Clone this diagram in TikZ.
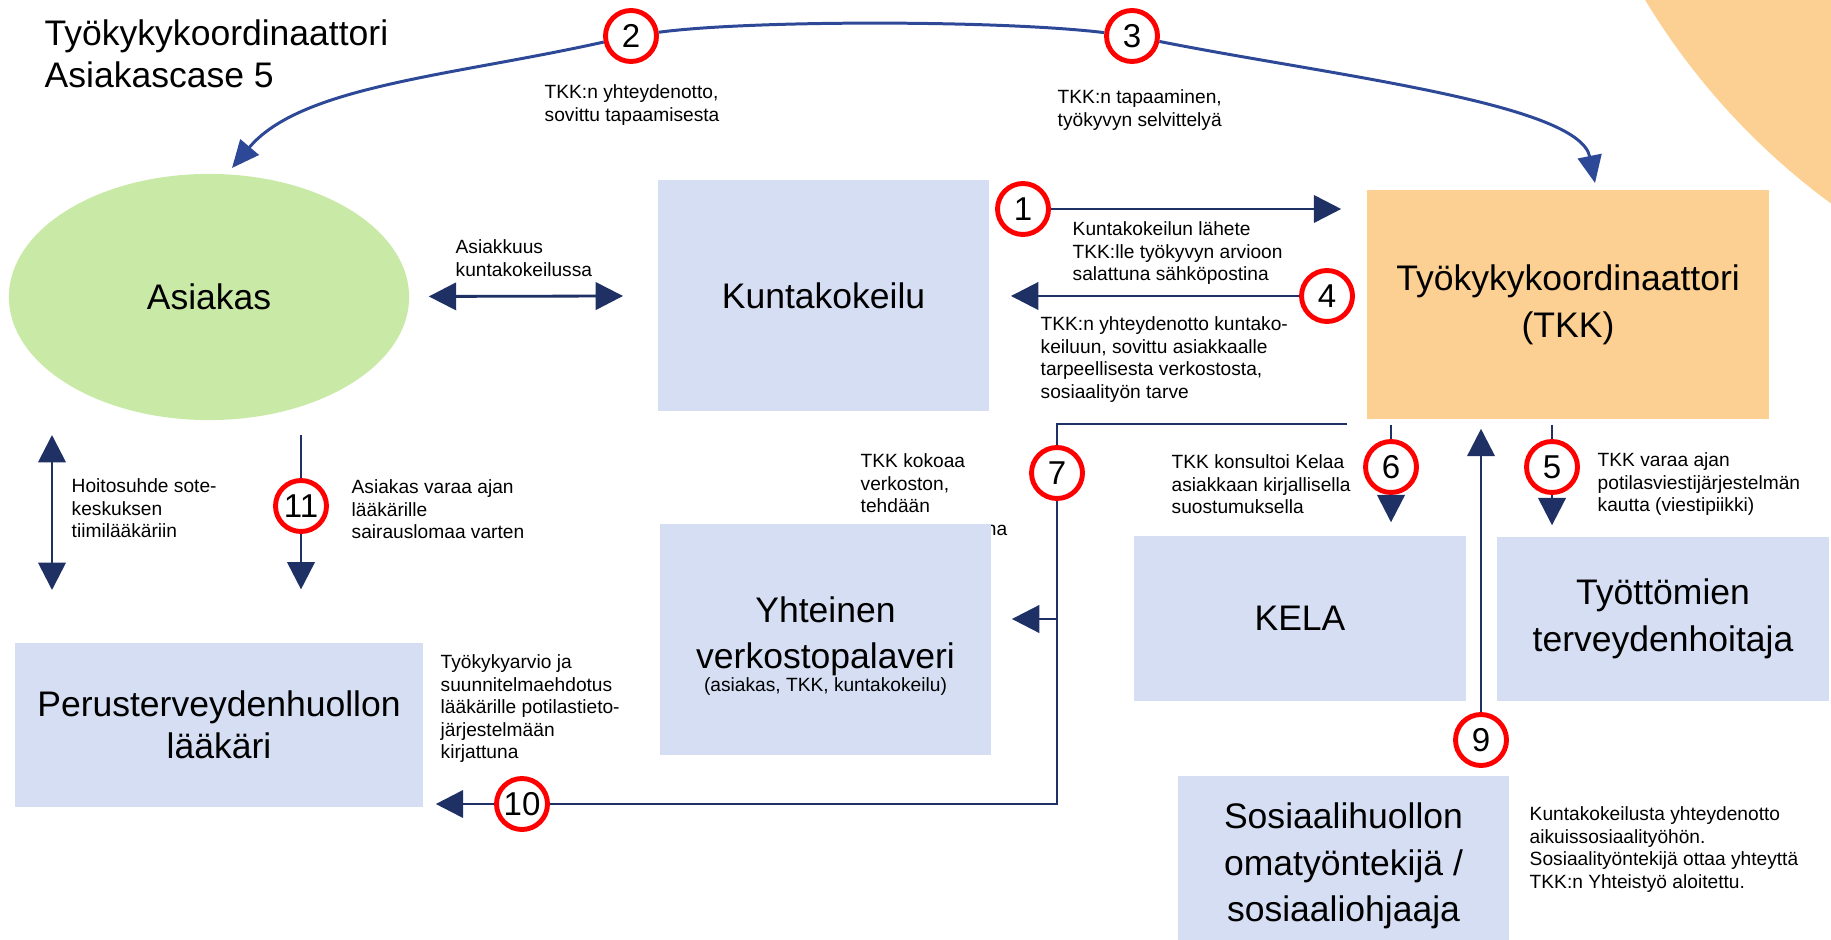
\documentclass[tikz,border=0pt]{standalone}
\usepackage{fontspec}
\setmainfont{Liberation Sans}
\usetikzlibrary{arrows.meta,shapes.geometric}
\definecolor{tkkorange}{RGB}{252,207,146}
\definecolor{boxblue}{RGB}{213,222,242}
\definecolor{asgreen}{RGB}{201,233,166}
\definecolor{flownavy}{RGB}{31,48,100}
\definecolor{curveblue}{RGB}{44,72,150}
\newcommand{\bigtext}{\fontsize{10.1pt}{12pt}\selectfont}
\newcommand{\boxtext}{\fontsize{10.1pt}{13.3pt}\selectfont}
\newcommand{\smalltext}{\fontsize{5.45pt}{6.4pt}\selectfont}
\newcommand{\numtext}{\fontsize{9.4pt}{10pt}\selectfont}

\begin{document}
\begin{tikzpicture}[x=0.01cm, y=-0.01cm,
	bluebox/.style={fill=boxblue, inner sep=0, align=center, font=\boxtext},
	lbl/.style={anchor=north west, align=left, inner sep=0, font=\smalltext},
	numring/.style={circle, draw=red, line width=1.4pt, fill=white, minimum size=14.5pt, inner sep=0, font=\numtext},
	flowline/.style={draw=flownavy, line width=0.8pt},
	flow/.style={flowline, -{Triangle[length=7.8pt,width=7.8pt]}},
	flowboth/.style={flowline, {Triangle[length=7.8pt,width=7.8pt]}-{Triangle[length=7.8pt,width=7.8pt]}},
	curveline/.style={draw=curveblue, line width=0.85pt},
	curve/.style={curveline, -{Triangle[length=7.8pt,width=6.8pt]}}]
					\useasboundingbox (0,0) rectangle (1831,940);
					\fill[tkkorange] (2245,-361) circle[radius=700];
					
					\node[anchor=north west, align=left, inner sep=0, font=\bigtext] (title) at (44,19) {Työkykykoordinaattori\\Asiakascase 5};
					
					\node[lbl] (l2) at (544,84) {TKK:n yhteydenotto,\\sovittu tapaamisesta};
					\node[lbl] (l3) at (1057,89) {TKK:n tapaaminen,\\työkyvyn selvittelyä};
					\node[lbl] (lasiakkuus) at (455,239) {Asiakkuus\\kuntakokeilussa};
					\node[lbl] (l1) at (1072,221) {Kuntakokeilun lähete\\TKK:lle työkyvyn arvioon\\salattuna sähköpostina};
					\node[lbl] (l4) at (1040,316) {TKK:n yhteydenotto kuntako-\\keiluun, sovittu asiakkaalle\\tarpeellisesta verkostosta,\\sosiaalityön tarve};
					\node[lbl] (l7) at (860,453) {TKK kokoaa\\verkoston,\\tehdään\\\hspace*{35.6pt}na};
					\node[lbl] (l6) at (1171,454) {TKK konsultoi Kelaa\\asiakkaan kirjallisella\\suostumuksella};
					\node[lbl] (l5) at (1597,452) {TKK varaa ajan\\potilasviestijärjestelmän\\kautta (viestipiikki)};
					\node[lbl] (l9) at (1529,806) {Kuntakokeilusta yhteydenotto\\aikuissosiaalityöhön.\\Sosiaalityöntekijä ottaa yhteyttä\\TKK:n Yhteistyö aloitettu.};
					\node[lbl] (lhoito) at (71,478) {Hoitosuhde sote-\\keskuksen\\tiimilääkäriin};
					\node[lbl] (l11) at (351,479) {Asiakas varaa ajan\\lääkärille\\sairauslomaa varten};
					\node[lbl] (l10) at (440,654) {Työkykyarvio ja\\suunnitelmaehdotus\\lääkärille potilastieto-\\järjestelmään\\kirjattuna};
					
					\node[ellipse, fill=asgreen, minimum width=113.8pt, minimum height=70pt, inner sep=0, font=\bigtext] (asiakas) at (209,297) {Asiakas};
					\node[bluebox, minimum width=94.2pt, minimum height=65.7pt] (kunta) at (823.5,295.5) {Kuntakokeilu};
					\node[fill=tkkorange, inner sep=0, align=center, font=\boxtext, minimum width=114.4pt, minimum height=65.1pt] (tkk) at (1568,304.5) {Työkykykoordinaattori\\(TKK)};
					\node[bluebox, minimum width=94.2pt, minimum height=65.7pt] (yht) at (825.5,639.5) {\rule{0pt}{10.9pt}Yhteinen\\verkostopalaveri\\[-6.9pt]{\smalltext (asiakas, TKK, kuntakokeilu)}};
					\node[bluebox, minimum width=94.5pt, minimum height=46.9pt] (kela) at (1300,618.5) {KELA};
					\node[bluebox, minimum width=94.5pt, minimum height=46.9pt] (tyott) at (1663,619) {Työttömien\\terveydenhoitaja};
					\node[bluebox, minimum width=94.2pt, minimum height=51.2pt] (sos) at (1343.5,866) {Sosiaalihuollon\\omatyöntekijä /\\sosiaaliohjaaja};
					\node[bluebox, font=\bigtext, minimum width=116.1pt, minimum height=46.7pt] (perus) at (219,725) {Perusterveydenhuollon\\lääkäri};
					
					\foreach \n/\x/\y in {1/1023/209, 2/631/36, 3/1132/36, 4/1327/296, 5/1552/467, 6/1391/467, 7/1057/473, 9/1481/740, 10/522/804, 11/301/506}{
						\node[numring] (c\n) at (\x,\y) {\n};
					};
					
					\coordinate (t2) at (232,168);
					\coordinate (t3) at (1595,183);
					\draw[curve] (c2) .. controls (451,76) and (301,86) .. (t2);
					\draw[curveline] (c2) .. controls (750,20) and (1000,20) .. (c3);
					\draw[curve] (c3) .. controls (1328,75) and (1579,103) .. (t3);
					
					\draw[flowboth, shorten <=5.4pt, shorten >=9.7pt] (asiakas) -- (kunta);
					\draw[flow, shorten >=7.1pt] (c1) -- (c1 -| tkk.west);
					\draw[flow, shorten >=6pt] (c4) -- (c4 -| kunta.east);
					
					\coordinate (s7) at (1347,424);
					\coordinate (b7) at (1057,619);
					\draw[flowline] (s7) -| (c7);
					\draw[flowline] (c7) |- (c10);
					\draw[flow, shorten >=5.7pt] (b7) -- (b7 -| yht.east);
					\draw[flow, shorten >=3.4pt] (c10) -- (c10 -| perus.east);
					
					\draw[flowline, shorten <=1.4pt] (c6 |- tkk.south) -- (c6);
					\draw[flow, shorten >=3.7pt] (c6) -- (c6 |- kela.north);
					\draw[flowline, shorten <=1.4pt] (c5 |- tkk.south) -- (c5);
					\draw[flow, shorten >=3pt] (c5) -- (c5 |- tyott.north);
					\draw[flow, shorten >=2.6pt] (c9) -- (c9 |- tkk.south);
					
					\coordinate (h1) at (52,435);
					\coordinate (h2) at (52,590);
					\draw[flowboth] (h1) -- (h2);
					\coordinate (a11) at (301,435);
					\draw[flowline] (a11) -- (c11);
					\draw[flow, shorten >=15pt] (c11) -- (c11 |- perus.north);
					
				\end{tikzpicture}
\end{document}
